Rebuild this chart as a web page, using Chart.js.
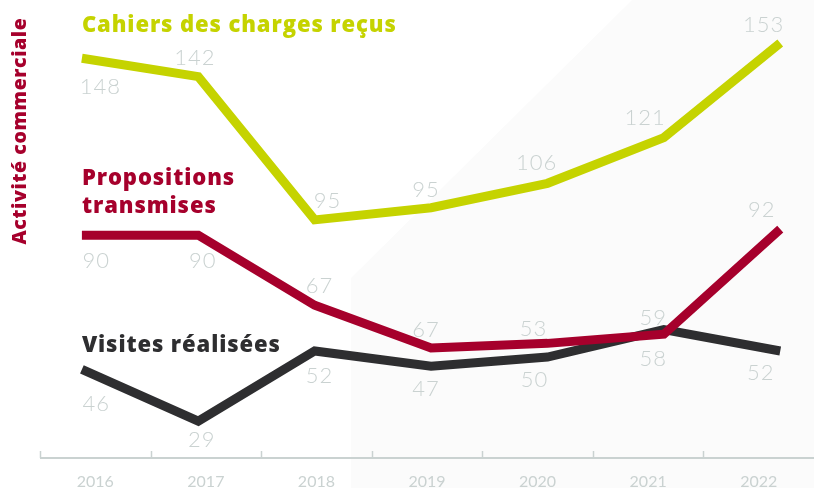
<!DOCTYPE html>
<html>
<head>
<meta charset="utf-8">
<script src="https://cdn.jsdelivr.net/npm/chart.js@4"></script>
<style>
  html, body { margin: 0; padding: 0; background: #fff; overflow: hidden; }
  #wrap { width: 814px; height: 488px; position: relative; }
</style>
</head>
<body>
<div id="wrap"><canvas id="chart"></canvas></div>
<script>
// données
const years = ["2016", "2017", "2018", "2019", "2020", "2021", "2022"];
const yearNums = [2016, 2017, 2018, 2019, 2020, 2021, 2022];

const cahiers = [148, 142, 95, 99, 107, 122, 153];
const cahiersTxt = ["148", "142", "95", "95", "106", "121", "153"];

const propositions = [90, 90, 67, 53, 54.5, 57.5, 92];
const propositionsTxt = ["90", "90", "67", "67", "53", "58", "92"];

const visites = [46, 29, 52, 47, 50, 59, 52];
const visitesTxt = ["46", "29", "52", "47", "50", "59", "52"];

// décalage des étiquettes (px) par rapport à la ligne
const cahiersDx = [5, -11, 11, -1, -1, -3, 5];
const cahiersDy = [29, -19, -19, -18, -20, -20, -18];
const propositionsDx = [1, -3, 3, -1, -4, 5, 3];
const propositionsDy = [26, 26, -19, -18, -14, 25, -19];
const visitesDx = [1, -4, 3, -1, -3, 5, 2];
const visitesDy = [35, 19, 25, 23, 23, -12, 22];

const JAUNE = "#c5d300";
const ROUGE = "#a6002c";
const NOIR = "#2e2e30";
const GRIS = "#cad2d1";

const series = [
  { name: ["Cahiers des charges reçus"], color: JAUNE, values: cahiers, txt: cahiersTxt, dx: cahiersDx, dy: cahiersDy, nameY: 32 },
  { name: ["Propositions", "transmises"], color: ROUGE, values: propositions, txt: propositionsTxt, dx: propositionsDx, dy: propositionsDy, nameY: 185 },
  { name: ["Visites réalisées"], color: NOIR, values: visites, txt: visitesTxt, dx: visitesDx, dy: visitesDy, nameY: 352 }
];

const deco = {
  id: "deco",
  beforeDraw(chart) {
    const ctx = chart.ctx;
    ctx.save();
    ctx.fillStyle = "#fbfbfb";
    ctx.beginPath();
    ctx.moveTo(632, 0);
    ctx.lineTo(chart.width, 0);
    ctx.lineTo(chart.width, chart.height);
    ctx.lineTo(351, chart.height);
    ctx.lineTo(351, 278);
    ctx.closePath();
    ctx.fill();
    ctx.restore();
  },
  beforeDatasetsDraw(chart) {
    // axe horizontal avec petites graduations vers le haut
    const ctx = chart.ctx;
    const x = chart.scales.x;
    const area = chart.chartArea;
    const step = x.getPixelForValue(1) - x.getPixelForValue(0);
    ctx.save();
    ctx.strokeStyle = GRIS;
    ctx.lineWidth = 2;
    ctx.beginPath();
    ctx.moveTo(area.left, area.bottom);
    ctx.lineTo(area.right, area.bottom);
    ctx.stroke();
    ctx.lineWidth = 1.5;
    years.forEach((_, i) => {
      const px = Math.round(x.getPixelForValue(i) - step / 2) + 0.5;
      ctx.beginPath();
      ctx.moveTo(px, area.bottom);
      ctx.lineTo(px, area.bottom - 7);
      ctx.stroke();
    });
    ctx.restore();
  },
  afterDraw(chart) {
    const ctx = chart.ctx;
    const x = chart.scales.x;
    const y = chart.scales.y;
    const xl = chart.scales.xl;
    ctx.save();
    // valeurs
    ctx.font = "300 22px Lato";
    ctx.letterSpacing = "1px";
    ctx.fillStyle = GRIS;
    ctx.textAlign = "center";
    ctx.textBaseline = "middle";
    series.forEach(s => {
      s.values.forEach((v, i) => {
        ctx.fillText(s.txt[i], x.getPixelForValue(i) + s.dx[i], y.getPixelForValue(v) + s.dy[i]);
      });
    });
    // noms des séries
    ctx.textAlign = "left";
    ctx.textBaseline = "alphabetic";
    ctx.font = "800 22px 'Open Sans'";
    ctx.letterSpacing = "0.9px";
    const left = xl.getPixelForValue(yearNums[0]);
    series.forEach(s => {
      ctx.fillStyle = s.color;
      s.name.forEach((line, k) => ctx.fillText(line, left, s.nameY + k * 28));
    });
    // titre vertical
    ctx.translate(20, 131);
    ctx.rotate(-Math.PI / 2);
    ctx.textAlign = "center";
    ctx.textBaseline = "middle";
    ctx.fillStyle = ROUGE;
    ctx.font = "800 19.5px 'Open Sans'";
    ctx.letterSpacing = "0.6px";
    ctx.fillText("Activité commerciale", 0, 0);
    ctx.restore();
  }
};

new Chart(document.getElementById("chart"), {
  type: "line",
  data: {
    labels: years,
    datasets: series.map(s => ({
      label: s.name.join(" "),
      data: s.values.map((v, i) => ({ x: yearNums[i], y: v })),
      xAxisID: "xl",
      borderColor: s.color,
      borderWidth: 9,
      borderCapStyle: "butt",
      borderJoinStyle: "miter",
      pointRadius: 0,
      tension: 0,
      fill: false
    }))
  },
  options: {
    responsive: true,
    maintainAspectRatio: false,
    animation: false,
    layout: { padding: { left: 40, right: 0, top: 8, bottom: 0 } },
    plugins: {
      legend: { display: false },
      tooltip: { enabled: false }
    },
    scales: {
      x: {
        type: "category",
        offset: true,
        grid: { display: false, drawTicks: false },
        border: { display: false },
        ticks: {
          color: GRIS,
          font: { family: "Lato", size: 16 },
          padding: 14,
          maxRotation: 0
        },
        afterFit: s => { s.height = 30; }
      },
      xl: {
        type: "linear",
        display: false,
        min: 2015.64,
        max: 2022.29
      },
      y: {
        display: false,
        min: 16.9,
        max: 164.5
      }
    }
  },
  plugins: [deco]
});
</script>
</body>
</html>
